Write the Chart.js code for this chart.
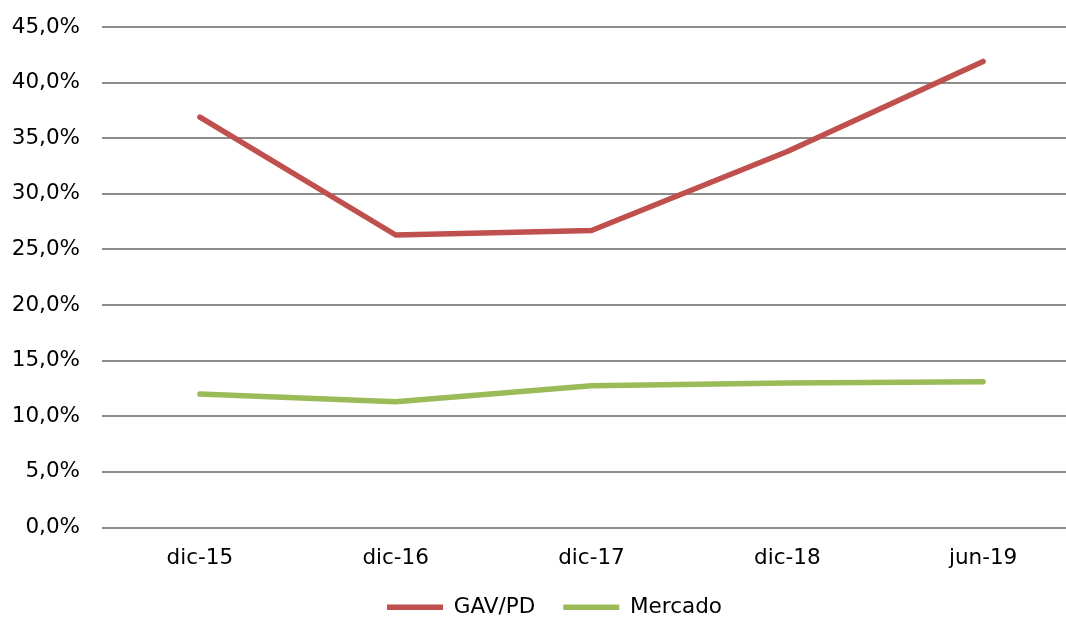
<!DOCTYPE html>
<html>
<head>
<meta charset="utf-8">
<script src="https://cdn.jsdelivr.net/npm/chart.js@4/dist/chart.umd.min.js"></script>
<style>
  html, body { margin: 0; padding: 0; background: #fff; overflow: hidden; }
  #wrap { position: relative; width: 1109px; height: 660px; }
</style>
</head>
<body>
<div id="wrap"><canvas id="chart"></canvas></div>
<script>
// Periods on the horizontal axis
const categories = ['dic-15', 'dic-16', 'dic-17', 'dic-18', 'jun-19'];
// Ratio values, in percent
const gavPd = [36.9, 26.3, 26.7, 33.8, 41.9];
const mercado = [12.0, 11.3, 12.75, 13.0, 13.1];
// Vertical axis range and step, in percent
const yMin = 0;
const yMax = 45;
const yStep = 5;

const fontSpec = { family: '"DejaVu Sans", Verdana, sans-serif', size: 21.5 };

new Chart(document.getElementById('chart'), {
  type: 'line',
  data: {
    labels: categories,
    datasets: [
      {
        label: 'GAV/PD',
        data: gavPd,
        borderColor: '#C0504D',
        backgroundColor: '#C0504D',
        borderWidth: 5.5,
        borderCapStyle: 'round',
        borderJoinStyle: 'round',
        pointRadius: 0,
        pointHoverRadius: 0,
        tension: 0,
        pointStyle: 'line'
      },
      {
        label: 'Mercado',
        data: mercado,
        borderColor: '#9BBB59',
        backgroundColor: '#9BBB59',
        borderWidth: 5.5,
        borderCapStyle: 'round',
        borderJoinStyle: 'round',
        pointRadius: 0,
        pointHoverRadius: 0,
        tension: 0,
        pointStyle: 'line'
      }
    ]
  },
  options: {
    responsive: true,
    maintainAspectRatio: false,
    animation: false,
    events: [],
    layout: { padding: { top: 27, left: 0, right: 0, bottom: 32 } },
    plugins: {
      tooltip: { enabled: false },
      legend: {
        position: 'bottom',
        labels: {
          usePointStyle: true,
          pointStyleWidth: 56,
          boxHeight: 5,
          padding: 28,
          color: '#000',
          font: fontSpec
        }
      }
    },
    scales: {
      x: {
        offset: true,
        grid: { display: false, drawTicks: false },
        border: { display: false },
        ticks: { color: '#000', font: fontSpec, padding: 18, maxRotation: 0 },
        afterFit(scale) { scale.height = 41; }
      },
      y: {
        min: yMin,
        max: yMax,
        grid: { color: '#8c8c8c', lineWidth: 2, drawTicks: false },
        border: { display: false },
        ticks: {
          stepSize: yStep,
          color: '#000',
          font: fontSpec,
          padding: 22,
          callback: (v) => v.toFixed(1).replace('.', ',') + '%'
        },
        afterFit(scale) {
          scale.width = 102;
          scale.paddingTop = 0;
          scale.paddingBottom = 0;
        }
      },
      // empty right-hand margin axis (no ticks, no grid)
      yRight: {
        position: 'right',
        min: yMin,
        max: yMax,
        grid: { display: false, drawTicks: false },
        border: { display: false },
        ticks: { display: false },
        afterFit(scale) {
          scale.width = 28;
          scale.paddingTop = 0;
          scale.paddingBottom = 0;
        }
      }
    }
  }
});
</script>
</body>
</html>
